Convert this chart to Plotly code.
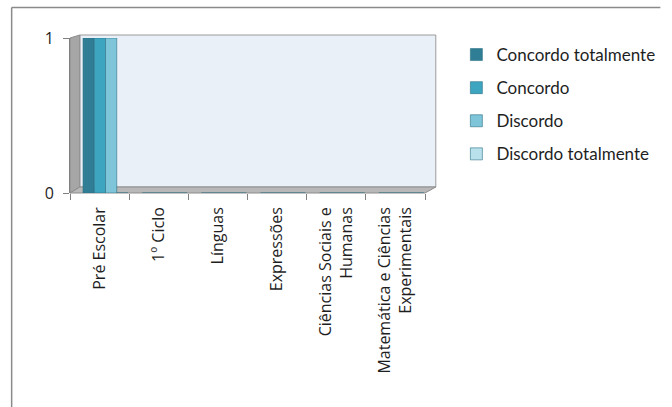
import plotly.graph_objects as go

categories = ["Pré Escolar", "1º Ciclo", "Línguas", "Expressões",
              "Ciências Sociais e<br>Humanas", "Matemática e Ciências<br>Experimentais"]
series_names = ["Concordo totalmente", "Concordo", "Discordo", "Discordo totalmente"]
concordo_totalmente = [1, 0, 0, 0, 0, 0]
concordo = [1, 0, 0, 0, 0, 0]
discordo = [1, 0, 0, 0, 0, 0]
discordo_totalmente = [0, 0, 0, 0, 0, 0]
y_ticks = [0, 1]

colors = ["#2F7E95", "#3DA5C0", "#7EC5DA", "#B9E1EC"]
values = [concordo_totalmente, concordo, discordo, discordo_totalmente]

W, H = 672, 407
L, R, T, B = 70, 432, 38, 193  # plot area in pixels

def px(x):
    return (x - L) / (R - L)

def py(y):
    return (B - y) / (B - T)

fig = go.Figure()
for name, vals, c in zip(series_names, values, colors):
    fig.add_trace(go.Bar(
        x=categories, y=vals, name=name, legendgroup=name,
        marker=dict(color=c, line=dict(color="#2A6F83", width=0.6)),
        hoverinfo="skip",
    ))
# invisible helper trace carrying the category axis with ticks/labels
fig.add_trace(go.Scatter(x=categories, y=[0] * len(categories), xaxis="x2",
                         mode="markers", marker=dict(opacity=0), showlegend=False,
                         hoverinfo="skip"))

shapes = [
    dict(type="rect", xref="paper", yref="paper", x0=px(80), x1=px(443), y0=py(187), y1=py(35),
         fillcolor="#E9F0F8", line=dict(color="#9A9A9A", width=1), layer="below"),
    dict(type="path", xref="paper", yref="paper",
         path=f"M {px(70)} {py(38)} L {px(80)} {py(35)} L {px(80)} {py(187)} L {px(70)} {py(193)} Z",
         fillcolor="#A6A6A6", line=dict(color="#8C8C8C", width=1), layer="below"),
    dict(type="path", xref="paper", yref="paper",
         path=f"M {px(70)} {py(193)} L {px(80)} {py(187)} L {px(443)} {py(187)} L {px(432)} {py(193)} Z",
         fillcolor="#B8B8B8", line=dict(color="#8C8C8C", width=1), layer="below"),
    dict(type="line", xref="paper", yref="paper", x0=px(10.5), x1=px(672), y0=py(7.5), y1=py(7.5),
         line=dict(color="#8A8A8A", width=1.5)),
    dict(type="line", xref="paper", yref="paper", x0=px(10.5), x1=px(10.5), y0=py(7.5), y1=py(407),
         line=dict(color="#8A8A8A", width=1.5)),
]

n = len(categories)
fig.update_layout(
    width=W, height=H,
    margin=dict(l=L, r=W - R, t=T, b=H - B),
    paper_bgcolor="white", plot_bgcolor="rgba(0,0,0,0)",
    barmode="group", bargap=0.24, bargroupgap=0.0,
    font=dict(family="Lato, Carlito, Open Sans, sans-serif", size=14, color="#1E1E1E"),
    showlegend=True,
    legend=dict(x=px(464), y=py(37), xanchor="left", yanchor="top",
                font=dict(size=17, color="#1E1E1E"), tracegroupgap=8, itemwidth=30,
                bgcolor="rgba(0,0,0,0)"),
    shapes=shapes,
    xaxis=dict(range=[-0.6, n - 0.6], showticklabels=False, ticks="",
               showline=False, showgrid=False, zeroline=False),
    xaxis2=dict(overlaying="x", side="bottom", type="category", range=[-0.5, n - 0.5],
                tickangle=-90, showline=False, ticks="outside", ticklen=6,
                tickson="boundaries", ticklabelstandoff=10,
                tickcolor="#808080", showgrid=False, zeroline=False,
                tickfont=dict(family="Open Sans, sans-serif", size=16, color="#1E1E1E")),
    yaxis=dict(range=[0, 1], tickvals=y_ticks, ticktext=[str(v) for v in y_ticks],
               ticks="outside", ticklen=6, tickcolor="#808080", ticklabelstandoff=6,
               showline=True, linecolor="#808080", showgrid=False, zeroline=False,
               tickfont=dict(family="Open Sans, sans-serif", size=16, color="#1E1E1E")),
)

fig.write_html("out.html", config={"displayModeBar": False},
               post_script="document.body.style.margin='0';")
